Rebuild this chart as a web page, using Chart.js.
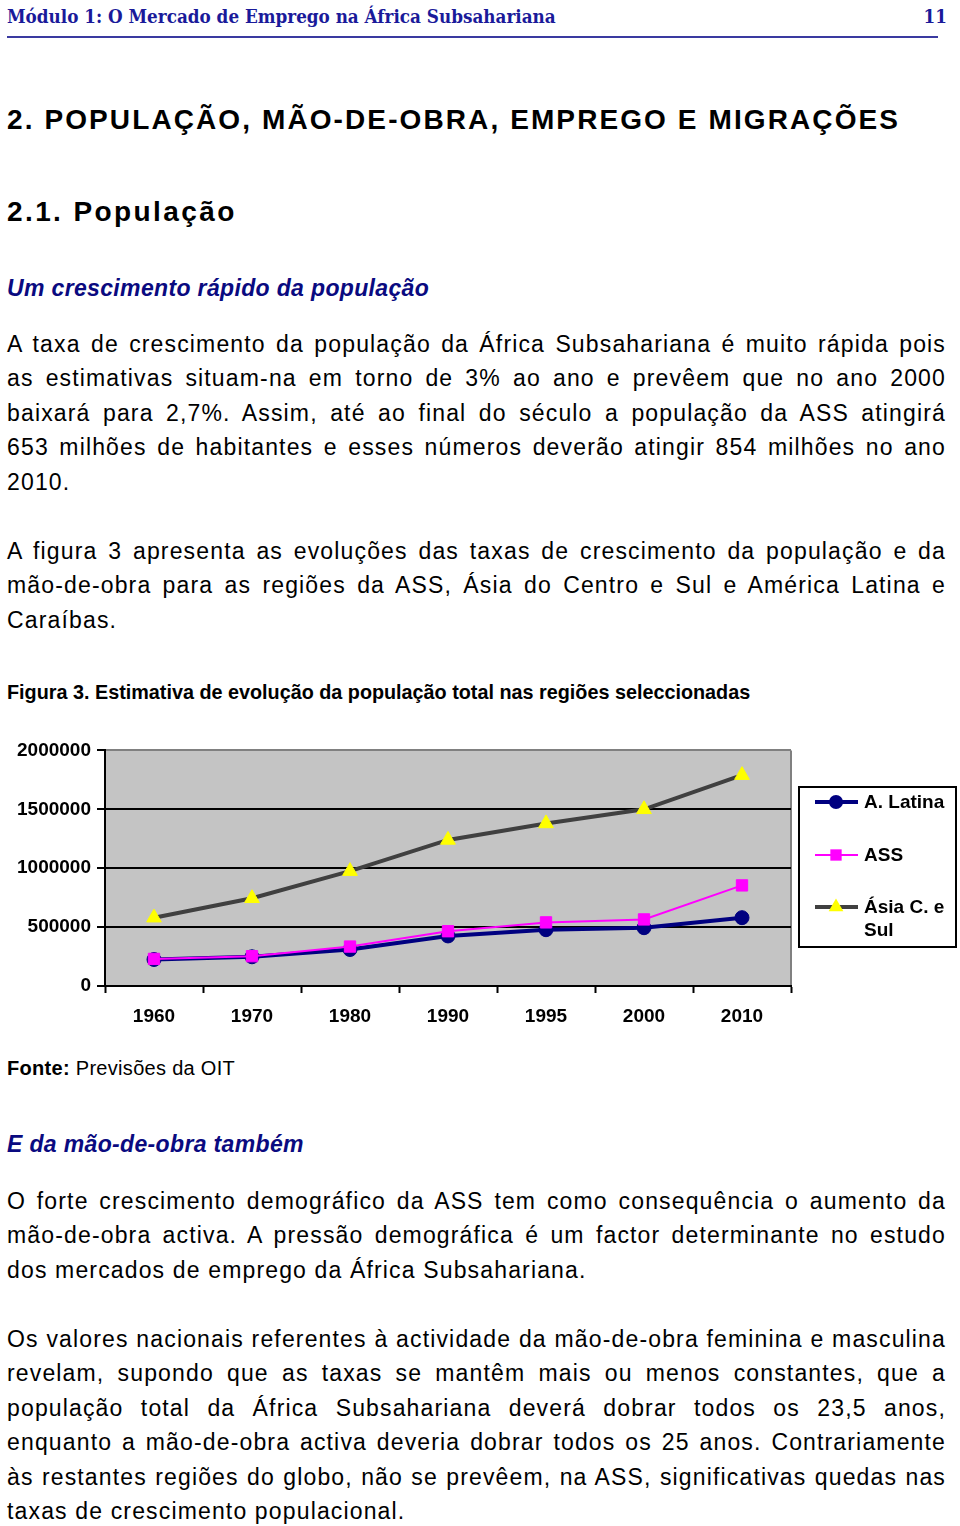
<!DOCTYPE html>
<html lang="pt">
<head>
<meta charset="utf-8">
<title>Figura 3</title>
<script src="https://cdn.jsdelivr.net/npm/chart.js@4.4.1/dist/chart.umd.min.js"></script>
<style>
  html, body { margin: 0; padding: 0; background: #fff; }
  body { width: 960px; height: 1526px; position: relative; overflow: hidden;
         font-family: "Liberation Sans", Arial, sans-serif; color: #000; }
  .abs { position: absolute; left: 7px; }
  .hdr { font-family: "DejaVu Serif Condensed", "DejaVu Serif", serif; font-weight: bold;
         font-size: 18.7px; color: #1a1a9a; top: 4px; line-height: 24px; }
  .pg { left: auto; right: 13px; }
  .rule { top: 36px; width: 931px; height: 2px; background: #3a3aa0; }
  .h1 { top: 103px; font-size: 28px; font-weight: bold; letter-spacing: 2.1px; line-height: 34px; }
  .h2 { top: 195px; font-size: 28px; font-weight: bold; letter-spacing: 2.4px; line-height: 34px; }
  .sub { font-size: 23px; font-weight: bold; font-style: italic; color: #0a0a80; line-height: 34px;
         letter-spacing: 0.35px; }
  .para { width: 939px; font-size: 23px; letter-spacing: 1.15px; }
  .para div { height: 34.4px; line-height: 34.4px; text-align: justify; text-align-last: justify; white-space: nowrap; }
  .para div.last { text-align-last: left; }
  .cap { top: 680px; font-weight: bold; font-size: 19.8px; line-height: 24px; }
  .src { top: 1056px; font-size: 20px; line-height: 24px; letter-spacing: 0.3px; }
  #chartBox { position: absolute; left: 0; top: 733px; width: 960px; height: 307px; }
</style>
</head>
<body>

<div class="abs hdr">Módulo 1: O Mercado de Emprego na África Subsahariana</div>
<div class="abs hdr pg">11</div>
<div class="abs rule"></div>

<div class="abs h1">2. POPULAÇÃO, MÃO-DE-OBRA, EMPREGO E MIGRAÇÕES</div>
<div class="abs h2">2.1. População</div>

<div class="abs sub" style="top:271px">Um crescimento rápido da população</div>

<div class="abs para" style="top:327px">
  <div>A taxa de crescimento da população da África Subsahariana é muito rápida pois</div>
  <div>as estimativas situam-na em torno de 3% ao ano e prevêem que no ano 2000</div>
  <div>baixará para 2,7%. Assim, até ao final do século a população da ASS atingirá</div>
  <div>653 milhões de habitantes e esses números deverão atingir 854 milhões no ano</div>
  <div class="last">2010.</div>
</div>

<div class="abs para" style="top:534px">
  <div>A figura 3 apresenta as evoluções das taxas de crescimento da população e da</div>
  <div>mão-de-obra para as regiões da ASS, Ásia do Centro e Sul e América Latina e</div>
  <div class="last">Caraíbas.</div>
</div>

<div class="abs cap">Figura 3. Estimativa de evolução da população total nas regiões seleccionadas</div>

<div id="chartBox"><canvas id="popChart" width="960" height="307"></canvas></div>

<div class="abs src"><b>Fonte:</b> Previsões da OIT</div>

<div class="abs sub" style="top:1127px">E da mão-de-obra também</div>

<div class="abs para" style="top:1184px">
  <div>O forte crescimento demográfico da ASS tem como consequência o aumento da</div>
  <div>mão-de-obra activa. A pressão demográfica é um factor determinante no estudo</div>
  <div class="last">dos mercados de emprego da África Subsahariana.</div>
</div>

<div class="abs para" style="top:1322px">
  <div>Os valores nacionais referentes à actividade da mão-de-obra feminina e masculina</div>
  <div>revelam, supondo que as taxas se mantêm mais ou menos constantes, que a</div>
  <div>população total da África Subsahariana deverá dobrar todos os 23,5 anos,</div>
  <div>enquanto a mão-de-obra activa deveria dobrar todos os 25 anos. Contrariamente</div>
  <div>às restantes regiões do globo, não se prevêem, na ASS, significativas quedas nas</div>
  <div class="last">taxas de crescimento populacional.</div>
</div>

<script>
// dados
const years = ['1960', '1970', '1980', '1990', '1995', '2000', '2010'];
const latina = [225000, 248000, 310000, 425000, 478000, 495000, 580000];
const ass = [230000, 253000, 335000, 465000, 540000, 565000, 854000];
const asia = [580000, 745000, 975000, 1240000, 1380000, 1500000, 1790000];
const yTicks = [0, 500000, 1000000, 1500000, 2000000];

const fontBold = { family: '"Liberation Sans", Arial, sans-serif', size: 19, weight: 'bold' };

// fundo cinzento e bordo direito da área do gráfico
const plotBg = {
	id: 'plotBg',
	beforeDraw(chart) {
		let a = chart.chartArea;
		let ctx = chart.ctx;
		ctx.save();
		ctx.fillStyle = '#c4c4c4';
		ctx.fillRect(a.left, a.top, a.right - a.left, a.bottom - a.top);
		ctx.strokeStyle = '#808080';
		ctx.lineWidth = 2;
		ctx.beginPath();
		ctx.moveTo(a.right, a.top);
		ctx.lineTo(a.right, a.bottom);
		ctx.stroke();
		ctx.restore();
	}
};

function drawMarker(ctx, ds, x, y) {
	ctx.fillStyle = ds.pointBackgroundColor;
	ctx.beginPath();
	if (ds.pointStyle === 'circle') {
		ctx.arc(x, y, ds.pointRadius, 0, Math.PI * 2);
	} else if (ds.pointStyle === 'rect') {
		let s = ds.pointRadius * Math.SQRT1_2;
		ctx.rect(x - s, y - s, 2 * s, 2 * s);
	} else {
		let r = ds.pointRadius;
		ctx.moveTo(x, y - r);
		ctx.lineTo(x + r * 0.866, y + r / 2);
		ctx.lineTo(x - r * 0.866, y + r / 2);
		ctx.closePath();
	}
	ctx.fill();
}

// legenda à direita, com caixa
const boxLegend = {
	id: 'boxLegend',
	afterDraw(chart) {
		let ctx = chart.ctx;
		ctx.save();
		ctx.fillStyle = '#fff';
		ctx.fillRect(799, 54, 157, 160);
		ctx.strokeStyle = '#000';
		ctx.lineWidth = 2;
		ctx.strokeRect(799, 54, 157, 160);

		let rows = [69, 122, 174];
		chart.data.datasets.forEach(function (ds, i) {
			let y = rows[i];
			ctx.strokeStyle = ds.borderColor;
			ctx.lineWidth = ds.borderWidth;
			ctx.beginPath();
			ctx.moveTo(815, y);
			ctx.lineTo(858, y);
			ctx.stroke();
			drawMarker(ctx, ds, 836, y);

			ctx.fillStyle = '#000';
			ctx.font = 'bold 19px "Liberation Sans", Arial, sans-serif';
			ctx.textBaseline = 'middle';
			ctx.textAlign = 'left';
			let lines = Array.isArray(ds.labelLines) ? ds.labelLines : [ds.label];
			lines.forEach(function (t, k) {
				ctx.fillText(t, 864, y + 1 + k * 23);
			});
		});
		ctx.restore();
	}
};

const ctxC = document.getElementById('popChart').getContext('2d');
const popChart = new Chart(ctxC, {
	type: 'line',
	data: {
		labels: years,
		datasets: [
			{
				label: 'A. Latina',
				data: latina,
				borderColor: '#000080',
				backgroundColor: '#000080',
				borderWidth: 4,
				pointStyle: 'circle',
				pointRadius: 7,
				pointBackgroundColor: '#000080',
				pointBorderColor: '#000080',
				pointBorderWidth: 1,
				order: 2
			},
			{
				label: 'ASS',
				data: ass,
				borderColor: '#ff00ff',
				backgroundColor: '#ff00ff',
				borderWidth: 2,
				pointStyle: 'rect',
				pointRadius: 8,
				pointBackgroundColor: '#ff00ff',
				pointBorderColor: '#ff00ff',
				pointBorderWidth: 1,
				order: 1
			},
			{
				label: 'Ásia C. e Sul',
				labelLines: ['Ásia C. e', 'Sul'],
				data: asia,
				borderColor: '#404040',
				backgroundColor: '#ffff00',
				borderWidth: 4,
				pointStyle: 'triangle',
				pointRadius: 8.5,
				pointBackgroundColor: '#ffff00',
				pointBorderColor: '#ffff00',
				pointBorderWidth: 1,
				order: 3
			}
		]
	},
	options: {
		responsive: false,
		animation: false,
		devicePixelRatio: 1,
		layout: { padding: { top: 12, right: 169, left: 0, bottom: 0 } },
		plugins: {
			legend: { display: false },
			tooltip: { enabled: false }
		},
		elements: { line: { tension: 0 } },
		scales: {
			x: {
				offset: true,
				grid: {
					offset: true,
					drawOnChartArea: false,
					drawTicks: true,
					tickLength: 7,
					tickColor: '#000',
					tickWidth: 2
				},
				border: { display: true, color: '#000', width: 2 },
				ticks: { font: fontBold, color: '#000', padding: 12, maxRotation: 0 },
				afterFit(scale) { scale.height = 54; }
			},
			y: {
				min: 0,
				max: 2000000,
				afterBuildTicks(scale) { scale.ticks = yTicks.map(v => ({ value: v })); },
				grid: {
					color: c => (c.tick && c.tick.value === 2000000) ? '#808080' : '#000',
					lineWidth: 2,
					tickLength: 8,
					tickColor: '#000',
					tickWidth: 2
				},
				border: { display: true, color: '#000', width: 2 },
				ticks: {
					font: fontBold,
					color: '#000',
					padding: 6,
					callback: v => String(v)
				},
				afterFit(scale) { scale.width = 105; }
			}
		}
	},
	plugins: [plotBg, boxLegend]
});
</script>
</body>
</html>
